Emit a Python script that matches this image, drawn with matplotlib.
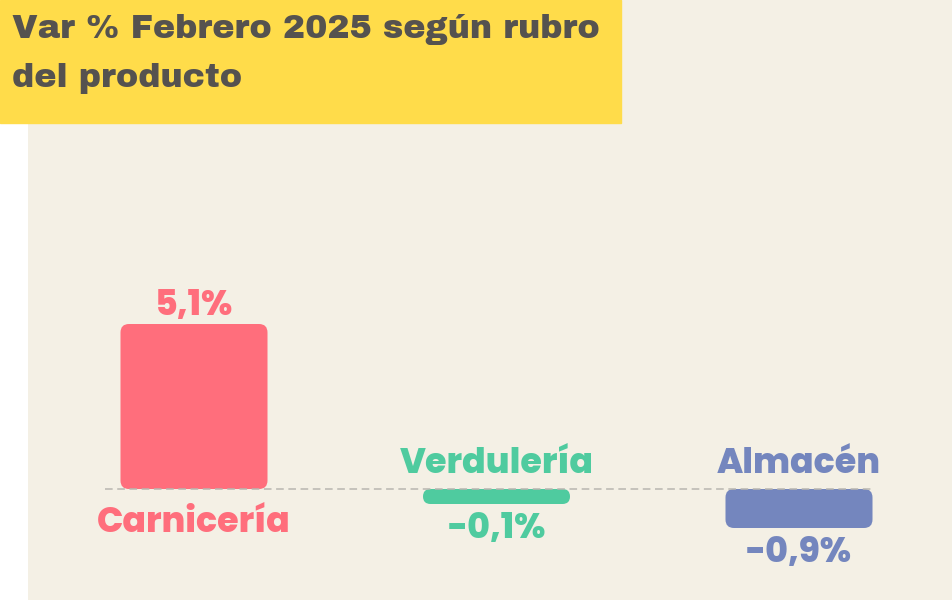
import matplotlib
matplotlib.use("Agg")
import matplotlib.pyplot as plt
from matplotlib.patches import FancyBboxPatch, Rectangle

rubros = ["Carnicería", "Verdulería", "Almacén"]
variacion = [5.1, -0.1, -0.9]
etiquetas = ["5,1%", "-0,1%", "-0,9%"]
colores = ["#FF6E7C", "#4FCB9F", "#7486BE"]
titulo = ["Var % Febrero 2025 según rubro", "del producto"]

W, H = 953, 600
fig = plt.figure(figsize=(W / 100, H / 100), dpi=100, facecolor="white")

# panel beige, una unidad x = 302.5 px, una unidad y = 30 px
ax_left = 28
ax = fig.add_axes([ax_left / W, 0, (W - ax_left) / W, 1])
px_x = 302.5
px_y = 30.0
x0_px = 194
base_px = 111
ax.set_xlim((ax_left - x0_px) / px_x, (W - x0_px) / px_x)
ax.set_ylim(-base_px / px_y, (H - base_px) / px_y)
ax.axis("off")
ax.add_patch(Rectangle((0, 0), 1, 1, transform=ax.transAxes,
                       color="#F4F0E5", zorder=0))

pos = list(range(len(rubros)))
ancho = 147 / px_x
extra = 12 / px_y  # grosor minimo de las barras
alturas = [v + (extra if v >= 0 else -extra) for v in variacion]
barras = ax.bar(pos, alturas, width=ancho, color=colores)

for b, c in zip(barras, colores):
    bb = b.get_bbox()
    b.remove()
    y0, y1 = min(bb.y0, bb.y1), max(bb.y0, bb.y1)
    h_px = (y1 - y0) * px_y
    r_px = min(8.5, h_px / 2)
    ax.add_patch(FancyBboxPatch((bb.x0, y0), bb.x1 - bb.x0, y1 - y0,
                                boxstyle="round,pad=0,rounding_size=%f" % (r_px / px_x),
                                mutation_aspect=px_x / px_y,
                                facecolor=c, edgecolor="none", zorder=2))

ax.hlines(0, pos[0] - ancho / 2 - 0.05, pos[-1] + ancho / 2,
          colors="#B8B6B0", linewidth=1.1, linestyles=(0, (5, 3)), zorder=3)

fuente = dict(family="Poppins", fontweight=800, fontsize=25)
for p, v, h, rub, et, c in zip(pos, variacion, alturas, rubros, etiquetas, colores):
    if v >= 0:
        ax.annotate(et, (p, h), xytext=(0, 9), textcoords="offset pixels",
                    ha="center", va="baseline", color=c, **fuente)
        ax.annotate(rub, (p, 0), xytext=(0, -43), textcoords="offset pixels",
                    ha="center", va="baseline", color=c, **fuente)
    else:
        ax.annotate(rub, (p, 0), xytext=(0, 16), textcoords="offset pixels",
                    ha="center", va="baseline", color=c, **fuente)
        ax.annotate(et, (p, h), xytext=(0, -34), textcoords="offset pixels",
                    ha="center", va="baseline", color=c, **fuente)

# caja del titulo
fig.patches.append(Rectangle((0, 1 - 123 / H), 621 / W, 123 / H,
                             transform=fig.transFigure, color="#FFDC4A",
                             zorder=5))
for i, linea in enumerate(titulo):
    fig.text(12 / W, 1 - (38 + 49 * i) / H, linea, ha="left", va="baseline",
             family="Archivo Black", fontsize=24,
             color="#55524F", zorder=6)

fig.savefig("out.png", dpi=100, facecolor="white")
